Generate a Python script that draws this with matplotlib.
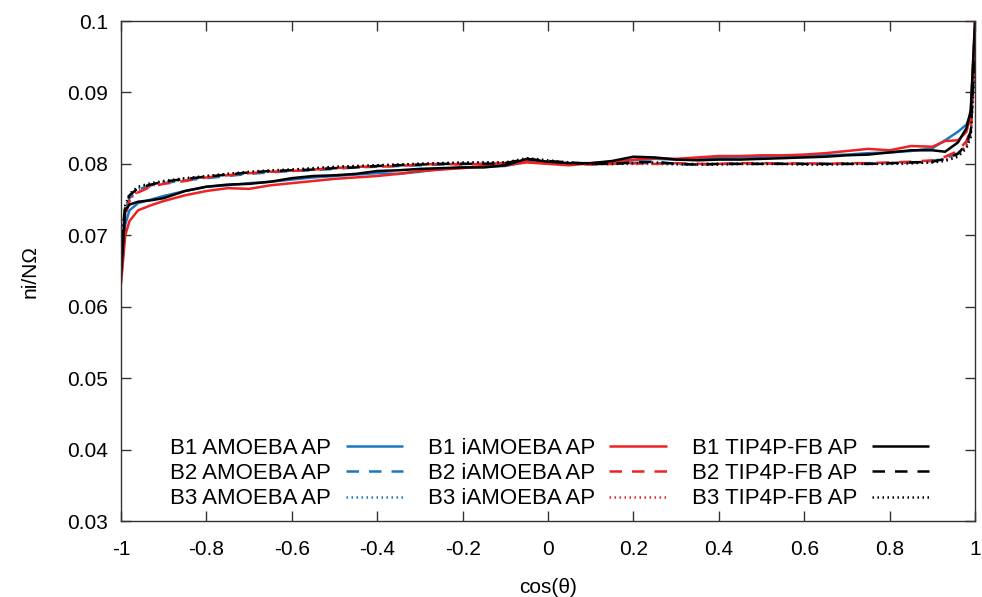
import matplotlib
matplotlib.use("Agg")
import matplotlib.pyplot as plt

cos_theta = [-1.0, -0.99, -0.98, -0.96, -0.93, -0.9, -0.85, -0.8, -0.75, -0.7, -0.65, -0.6,
             -0.55, -0.5, -0.45, -0.4, -0.35, -0.3, -0.25, -0.2, -0.15, -0.1, -0.05, 0.0,
             0.05, 0.1, 0.15, 0.2, 0.25, 0.3, 0.35, 0.4, 0.45, 0.5, 0.55, 0.6, 0.65, 0.7,
             0.75, 0.8, 0.85, 0.9, 0.93, 0.96, 0.98, 0.99, 1.0]

b1_amoeba = [0.0635, 0.0715, 0.0735, 0.0745, 0.0750, 0.0755, 0.0762, 0.0768, 0.0770, 0.0773, 0.0775, 0.0778,
             0.0781, 0.0783, 0.0785, 0.0787, 0.0786, 0.0789, 0.0793, 0.0795, 0.0796, 0.0797, 0.0803, 0.0801,
             0.0800, 0.0800, 0.0802, 0.0805, 0.0807, 0.0806, 0.0807, 0.0808, 0.0809, 0.0810, 0.0811, 0.0811,
             0.0812, 0.0813, 0.0815, 0.0816, 0.0818, 0.0822, 0.0833, 0.0845, 0.0855, 0.0870, 0.0990]
b2_amoeba = [0.0680, 0.0735, 0.0752, 0.0764, 0.0770, 0.0773, 0.0777, 0.0780, 0.0783, 0.0786, 0.0788, 0.0790,
             0.0791, 0.0793, 0.0795, 0.0796, 0.0797, 0.0798, 0.0799, 0.0800, 0.0800, 0.0801, 0.0805, 0.0802,
             0.0801, 0.0800, 0.0800, 0.0801, 0.0801, 0.0800, 0.0799, 0.0800, 0.0800, 0.0800, 0.0801, 0.0800,
             0.0800, 0.0800, 0.0801, 0.0801, 0.0802, 0.0804, 0.0808, 0.0815, 0.0830, 0.0845, 0.0960]
b3_amoeba = [0.0675, 0.0738, 0.0755, 0.0766, 0.0771, 0.0775, 0.0778, 0.0782, 0.0785, 0.0787, 0.0789, 0.0791,
             0.0793, 0.0795, 0.0796, 0.0798, 0.0799, 0.0800, 0.0801, 0.0801, 0.0802, 0.0802, 0.0806, 0.0803,
             0.0801, 0.0800, 0.0800, 0.0800, 0.0800, 0.0799, 0.0799, 0.0800, 0.0800, 0.0800, 0.0800, 0.0800,
             0.0799, 0.0800, 0.0800, 0.0800, 0.0801, 0.0802, 0.0805, 0.0812, 0.0825, 0.0840, 0.0950]

b1_iamoeba = [0.0632, 0.0700, 0.0720, 0.0735, 0.0742, 0.0748, 0.0756, 0.0762, 0.0766, 0.0765, 0.0770, 0.0773,
              0.0776, 0.0779, 0.0781, 0.0783, 0.0786, 0.0790, 0.0792, 0.0794, 0.0797, 0.0798, 0.0802, 0.0800,
              0.0798, 0.0801, 0.0803, 0.0806, 0.0808, 0.0807, 0.0809, 0.0811, 0.0811, 0.0812, 0.0812, 0.0813,
              0.0815, 0.0818, 0.0821, 0.0819, 0.0825, 0.0824, 0.0832, 0.0833, 0.0845, 0.0870, 0.1000]
b2_iamoeba = [0.0670, 0.0728, 0.0748, 0.0760, 0.0768, 0.0772, 0.0776, 0.0781, 0.0784, 0.0787, 0.0789, 0.0790,
              0.0792, 0.0794, 0.0796, 0.0796, 0.0797, 0.0799, 0.0800, 0.0799, 0.0800, 0.0801, 0.0804, 0.0802,
              0.0800, 0.0799, 0.0800, 0.0801, 0.0800, 0.0801, 0.0800, 0.0800, 0.0801, 0.0801, 0.0800, 0.0801,
              0.0800, 0.0801, 0.0801, 0.0802, 0.0803, 0.0805, 0.0810, 0.0818, 0.0832, 0.0848, 0.0970]
b3_iamoeba = [0.0672, 0.0732, 0.0750, 0.0762, 0.0769, 0.0774, 0.0779, 0.0783, 0.0786, 0.0788, 0.0790, 0.0792,
              0.0793, 0.0795, 0.0797, 0.0797, 0.0799, 0.0800, 0.0801, 0.0801, 0.0801, 0.0802, 0.0805, 0.0803,
              0.0801, 0.0800, 0.0800, 0.0800, 0.0800, 0.0800, 0.0800, 0.0800, 0.0800, 0.0800, 0.0800, 0.0800,
              0.0800, 0.0800, 0.0800, 0.0801, 0.0801, 0.0803, 0.0806, 0.0813, 0.0826, 0.0842, 0.0955]

b1_tip4p = [0.0642, 0.0735, 0.0743, 0.0747, 0.0749, 0.0752, 0.0762, 0.0768, 0.0771, 0.0772, 0.0775, 0.0780,
            0.0783, 0.0784, 0.0786, 0.0790, 0.0791, 0.0793, 0.0794, 0.0795, 0.0795, 0.0798, 0.0807, 0.0803,
            0.0801, 0.0801, 0.0804, 0.0810, 0.0809, 0.0806, 0.0805, 0.0806, 0.0806, 0.0807, 0.0808, 0.0809,
            0.0810, 0.0812, 0.0813, 0.0816, 0.0819, 0.0819, 0.0817, 0.0830, 0.0850, 0.0875, 0.1000]
b2_tip4p = [0.0690, 0.0740, 0.0756, 0.0766, 0.0771, 0.0775, 0.0779, 0.0782, 0.0785, 0.0788, 0.0790, 0.0791,
            0.0792, 0.0794, 0.0795, 0.0797, 0.0798, 0.0799, 0.0800, 0.0800, 0.0800, 0.0801, 0.0807, 0.0804,
            0.0802, 0.0800, 0.0800, 0.0802, 0.0803, 0.0800, 0.0799, 0.0800, 0.0800, 0.0800, 0.0800, 0.0800,
            0.0800, 0.0800, 0.0800, 0.0801, 0.0802, 0.0803, 0.0807, 0.0814, 0.0828, 0.0846, 0.0965]
b3_tip4p = [0.0685, 0.0742, 0.0758, 0.0768, 0.0773, 0.0776, 0.0780, 0.0783, 0.0786, 0.0789, 0.0791, 0.0792,
            0.0794, 0.0796, 0.0797, 0.0798, 0.0799, 0.0800, 0.0801, 0.0802, 0.0802, 0.0802, 0.0808, 0.0805,
            0.0802, 0.0800, 0.0800, 0.0801, 0.0802, 0.0800, 0.0799, 0.0799, 0.0800, 0.0800, 0.0800, 0.0799,
            0.0799, 0.0800, 0.0800, 0.0800, 0.0801, 0.0802, 0.0804, 0.0810, 0.0822, 0.0838, 0.0945]

series = [
    ("B1 AMOEBA AP", b1_amoeba), ("B2 AMOEBA AP", b2_amoeba), ("B3 AMOEBA AP", b3_amoeba),
    ("B1 iAMOEBA AP", b1_iamoeba), ("B2 iAMOEBA AP", b2_iamoeba), ("B3 iAMOEBA AP", b3_iamoeba),
    ("B1 TIP4P-FB AP", b1_tip4p), ("B2 TIP4P-FB AP", b2_tip4p), ("B3 TIP4P-FB AP", b3_tip4p),
]
colors = ["#1a78c2"] * 3 + ["#ee2222"] * 3 + ["#000000"] * 3
styles = [(0, ()), (0, (5, 4)), (0, (0.6, 1.4))] * 3

plt.rcParams['font.family'] = ['Liberation Sans', 'DejaVu Sans']
fig = plt.figure(figsize=(9.82, 5.97), dpi=100)
ax = fig.add_axes([0.1232, 0.1273, 0.8697, 0.8375])

for (lab, vals), c, ls in zip(series, colors, styles):
    ax.plot(cos_theta, vals, color=c, linestyle=ls, linewidth=1.8, label=lab)

ax.set_xlim(-1, 1)
ax.set_ylim(0.03, 0.1)
xt = [-1, -0.8, -0.6, -0.4, -0.2, 0, 0.2, 0.4, 0.6, 0.8, 1]
ax.set_xticks(xt)
ax.set_xticklabels(["-1", "-0.8", "-0.6", "-0.4", "-0.2", "0", "0.2", "0.4", "0.6", "0.8", "1"])
yt = [0.03, 0.04, 0.05, 0.06, 0.07, 0.08, 0.09, 0.1]
ax.set_yticks(yt)
ax.set_yticklabels(["0.03", "0.04", "0.05", "0.06", "0.07", "0.08", "0.09", "0.1"])
ax.tick_params(direction='in', length=7, width=1, top=True, right=True, labelsize=15, color='#333333')
ax.tick_params(axis='x', pad=14)
ax.tick_params(axis='y', pad=9)
for s in ax.spines.values():
    s.set_linewidth(1.0)
    s.set_color('#333333')

ax.set_xlabel("cos(θ)", fontsize=15, labelpad=13)
ax.set_ylabel("ni/NΩ", fontsize=15, labelpad=20)

leg = ax.legend(ncol=3, loc='lower left', bbox_to_anchor=(0.044, 0.0), frameon=False, fontsize=16,
                markerfirst=False, handlelength=2.6, handletextpad=0.65, columnspacing=1.1,
                labelspacing=0.19, borderaxespad=0.12)
for t in leg.get_texts():
    t.set_ha('right')

fig.savefig("out.png", dpi=100)
